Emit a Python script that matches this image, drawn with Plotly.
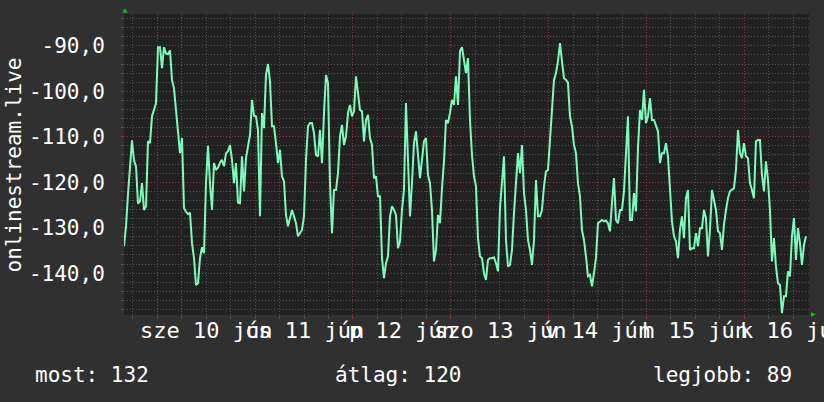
import plotly.graph_objects as go

# ---- data ----
# sample times: hours relative to Jun 10 00:00, one sample every ~29.4 min
T_START = -8.17
T_STEP = 0.4906
X_RANGE = [-8.17, 159.87]
Y_RANGE = [-149.2, -83.0]

values = [
    -134.1, -129.7, -122.6, -115.7, -110.8, -115.2, -116.5, -124.7, -124.2, -120.2,
    -126.1, -125.3, -111.0, -111.4, -105.4, -104.1, -102.6, -90.3, -90.3, -94.9,
    -90.3, -91.7, -91.8, -91.0, -97.5, -99.4, -104.1, -109.2, -113.6, -110.3,
    -125.7, -126.5, -127.0, -126.7, -133.4, -136.7, -142.6, -142.2, -136.7, -134.3,
    -135.6, -120.2, -112.0, -120.2, -126.1, -115.8, -117.3, -116.8, -115.7, -115.1,
    -116.5, -113.6, -113.2, -111.8, -115.1, -120.2,
    -115.8, -124.5, -124.6, -114.3, -122.0, -114.7, -112.1, -109.6, -101.9, -105.4,
    -105.5, -108.6, -127.5, -104.8, -108.1, -96.4, -94.0, -97.8, -107.7, -107.7,
    -111.4, -115.8, -112.9, -118.7, -119.8, -127.2, -129.7, -127.5, -126.1, -127.5,
    -129.0, -131.9, -131.2, -130.5, -127.5, -115.1, -107.7, -107.0, -107.0, -109.2,
    -114.0, -114.3, -108.5, -115.8, -104.8, -96.4, -98.2, -120.2, -131.2, -121.7,
    -121.7, -118.0, -109.9, -107.4, -111.8, -109.9, -104.8, -103.0,
    -105.5, -104.4, -96.7, -100.0, -104.1, -104.4, -111.0, -106.3, -105.2, -110.3,
    -111.8, -119.1, -118.7, -123.1, -123.1, -136.7, -141.1, -137.8, -136.3, -127.5,
    -125.3, -126.1, -127.2, -134.5, -133.0, -126.1, -121.7, -102.6, -116.5, -127.5,
    -120.2, -111.4, -108.8, -113.6, -119.1, -115.1, -111.0, -110.3, -118.4, -120.2,
    -126.1, -137.4, -134.9, -127.2, -129.0, -121.3, -115.4, -106.3, -107.0, -104.8,
    -101.9, -103.0, -96.7, -103.0, -91.2, -90.3, -93.4,
    -96.0, -92.7, -106.3, -114.0, -118.7, -120.9, -132.3, -136.3, -136.7, -140.0,
    -141.5, -137.1, -136.7, -136.7, -136.5, -137.8, -139.6, -125.7, -120.9, -114.3,
    -132.7, -138.5, -138.2, -134.9, -126.8, -119.5, -113.6, -118.0, -111.8, -122.4,
    -126.1, -132.7, -134.9, -138.2, -132.7, -119.5, -127.5, -127.5, -126.1, -120.9,
    -117.6, -117.3, -109.6, -104.1, -97.5, -96.0, -93.4, -89.4, -93.4, -97.1,
    -97.5, -98.1, -105.5, -107.7, -111.8, -113.6, -120.2, -123.1,
    -130.5, -132.7, -136.3, -140.7, -140.4, -142.9, -140.0, -136.7, -129.0, -128.6,
    -128.3, -128.6, -128.4, -129.0, -130.8, -124.6, -119.1, -128.3, -129.0, -126.1,
    -126.1, -122.0, -114.7, -105.5, -128.3, -128.3, -122.4, -126.4, -112.5, -104.1,
    -106.3, -99.7, -107.0, -105.5, -101.5, -106.3, -106.3, -107.4, -108.8, -115.8,
    -113.6, -113.6, -111.4, -114.3, -121.7, -128.6, -131.9, -133.0, -136.7, -130.5,
    -127.5, -132.3, -123.5, -121.7, -134.9, -134.5, -134.5,
    -131.2, -134.1, -130.1, -130.1, -126.1, -127.9, -136.3, -130.5, -121.7, -123.9,
    -126.1, -130.8, -131.2, -134.9, -129.4, -126.1, -123.5, -122.0, -121.7, -121.3,
    -117.3, -108.5, -113.6, -114.7, -111.4, -114.3, -114.7, -120.2, -121.7, -123.5,
    -111.0, -110.7, -110.7, -118.4, -122.0, -115.4, -119.5, -126.1, -137.4, -132.3,
    -138.5, -142.2, -142.6, -148.8, -145.1, -145.1, -139.6, -140.7, -131.9, -127.9,
    -137.1, -130.1, -133.4, -138.2, -133.8, -131.9,
]
times = [T_START + i * T_STEP for i in range(len(values))]

day_hours = [12, 36, 60, 84, 108, 132, 156]
day_labels = ["sze 10 jún", "cs 11 jún", "p 12 jún", "szo 13 jún",
              "v 14 jún", "h 15 jún", "k 16 jún"]
midnights = [0, 24, 48, 72, 96, 120, 144]
y_ticks = [-90, -100, -110, -120, -130, -140]
y_ticktext = ["-90,0", "-100,0", "-110,0", "-120,0", "-130,0", "-140,0"]
series_name = "onlinestream.live"
stats = [("most: 132", -0.1328), ("átlag: 120", 0.3051), ("legjobb: 89", 0.7693)]

# ---- style ----
FONT = "DejaVu Sans Mono"
BG = "#303030"
CANVAS = "#212121"
MINOR = "#525252"
MAJOR = "#843a3a"
LINE = "#7dfbbd"
ARROW = "#00c800"

fig = go.Figure()
fig.add_trace(go.Scatter(x=times, y=values, mode="lines",
                         line=dict(color=LINE, width=2), hoverinfo="skip",
                         showlegend=False))

fig.update_layout(
    width=824, height=402,
    margin=dict(l=124, r=15, t=14, b=87),
    paper_bgcolor=BG, plot_bgcolor=CANVAS,
    font=dict(family=FONT, color="#ffffff", size=21),
    xaxis=dict(
        range=X_RANGE, tickmode="array", tickvals=midnights,
        showticklabels=False, showgrid=True, gridcolor=MAJOR, griddash="1px,2px",
        gridwidth=1, ticks="outside", ticklen=3, tickcolor=MAJOR,
        zeroline=False, showline=False,
        minor=dict(tickmode="linear", tick0=0, dtick=6, showgrid=True,
                   gridcolor=MINOR, griddash="1px,2px", gridwidth=1,
                   ticks="outside", ticklen=3, tickcolor=MINOR),
    ),
    yaxis=dict(
        range=Y_RANGE, tickmode="array", tickvals=y_ticks, ticktext=y_ticktext,
        showgrid=True, gridcolor=MAJOR, griddash="1px,2px", gridwidth=1,
        ticks="outside", ticklen=2, tickcolor=MAJOR, zeroline=False,
        showline=False, tickfont=dict(family=FONT, size=21, color="#ffffff"),
        ticklabelstandoff=12,
        minor=dict(tickmode="linear", tick0=0, dtick=2, showgrid=True,
                   gridcolor=MINOR, griddash="1px,2px", gridwidth=1,
                   ticks="outside", ticklen=2, tickcolor=MINOR),
    ),
)

ann = []
for h, lab in zip(day_hours, day_labels):
    ann.append(dict(x=h, y=-0.053, xref="x", yref="paper", text=lab,
                    showarrow=False, xanchor="center", yanchor="middle",
                    font=dict(family=FONT, size=22, color="#ffffff")))
ann.append(dict(x=-0.1606, y=0.5, xref="paper", yref="paper", text=series_name,
                textangle=-90, showarrow=False, xanchor="center", yanchor="middle",
                font=dict(family=FONT, size=21, color="#ffffff")))
for txt, px in stats:
    ann.append(dict(x=px, y=-0.199, xref="paper", yref="paper", text=txt,
                    showarrow=False, xanchor="left", yanchor="middle",
                    font=dict(family=FONT, size=21, color="#ffffff")))
fig.update_layout(annotations=ann)

fig.update_layout(shapes=[
    dict(type="path", xref="paper", yref="paper",
         path="M 0.0015 1.0189 L -0.0025 1.0043 L 0.0054 1.0043 Z",
         fillcolor=ARROW, line=dict(width=0)),
    dict(type="path", xref="paper", yref="paper",
         path="M 1.0102 0.0017 L 1.0029 0.009 L 1.0029 -0.0056 Z",
         fillcolor=ARROW, line=dict(width=0)),
])

fig.write_html("out.html")
